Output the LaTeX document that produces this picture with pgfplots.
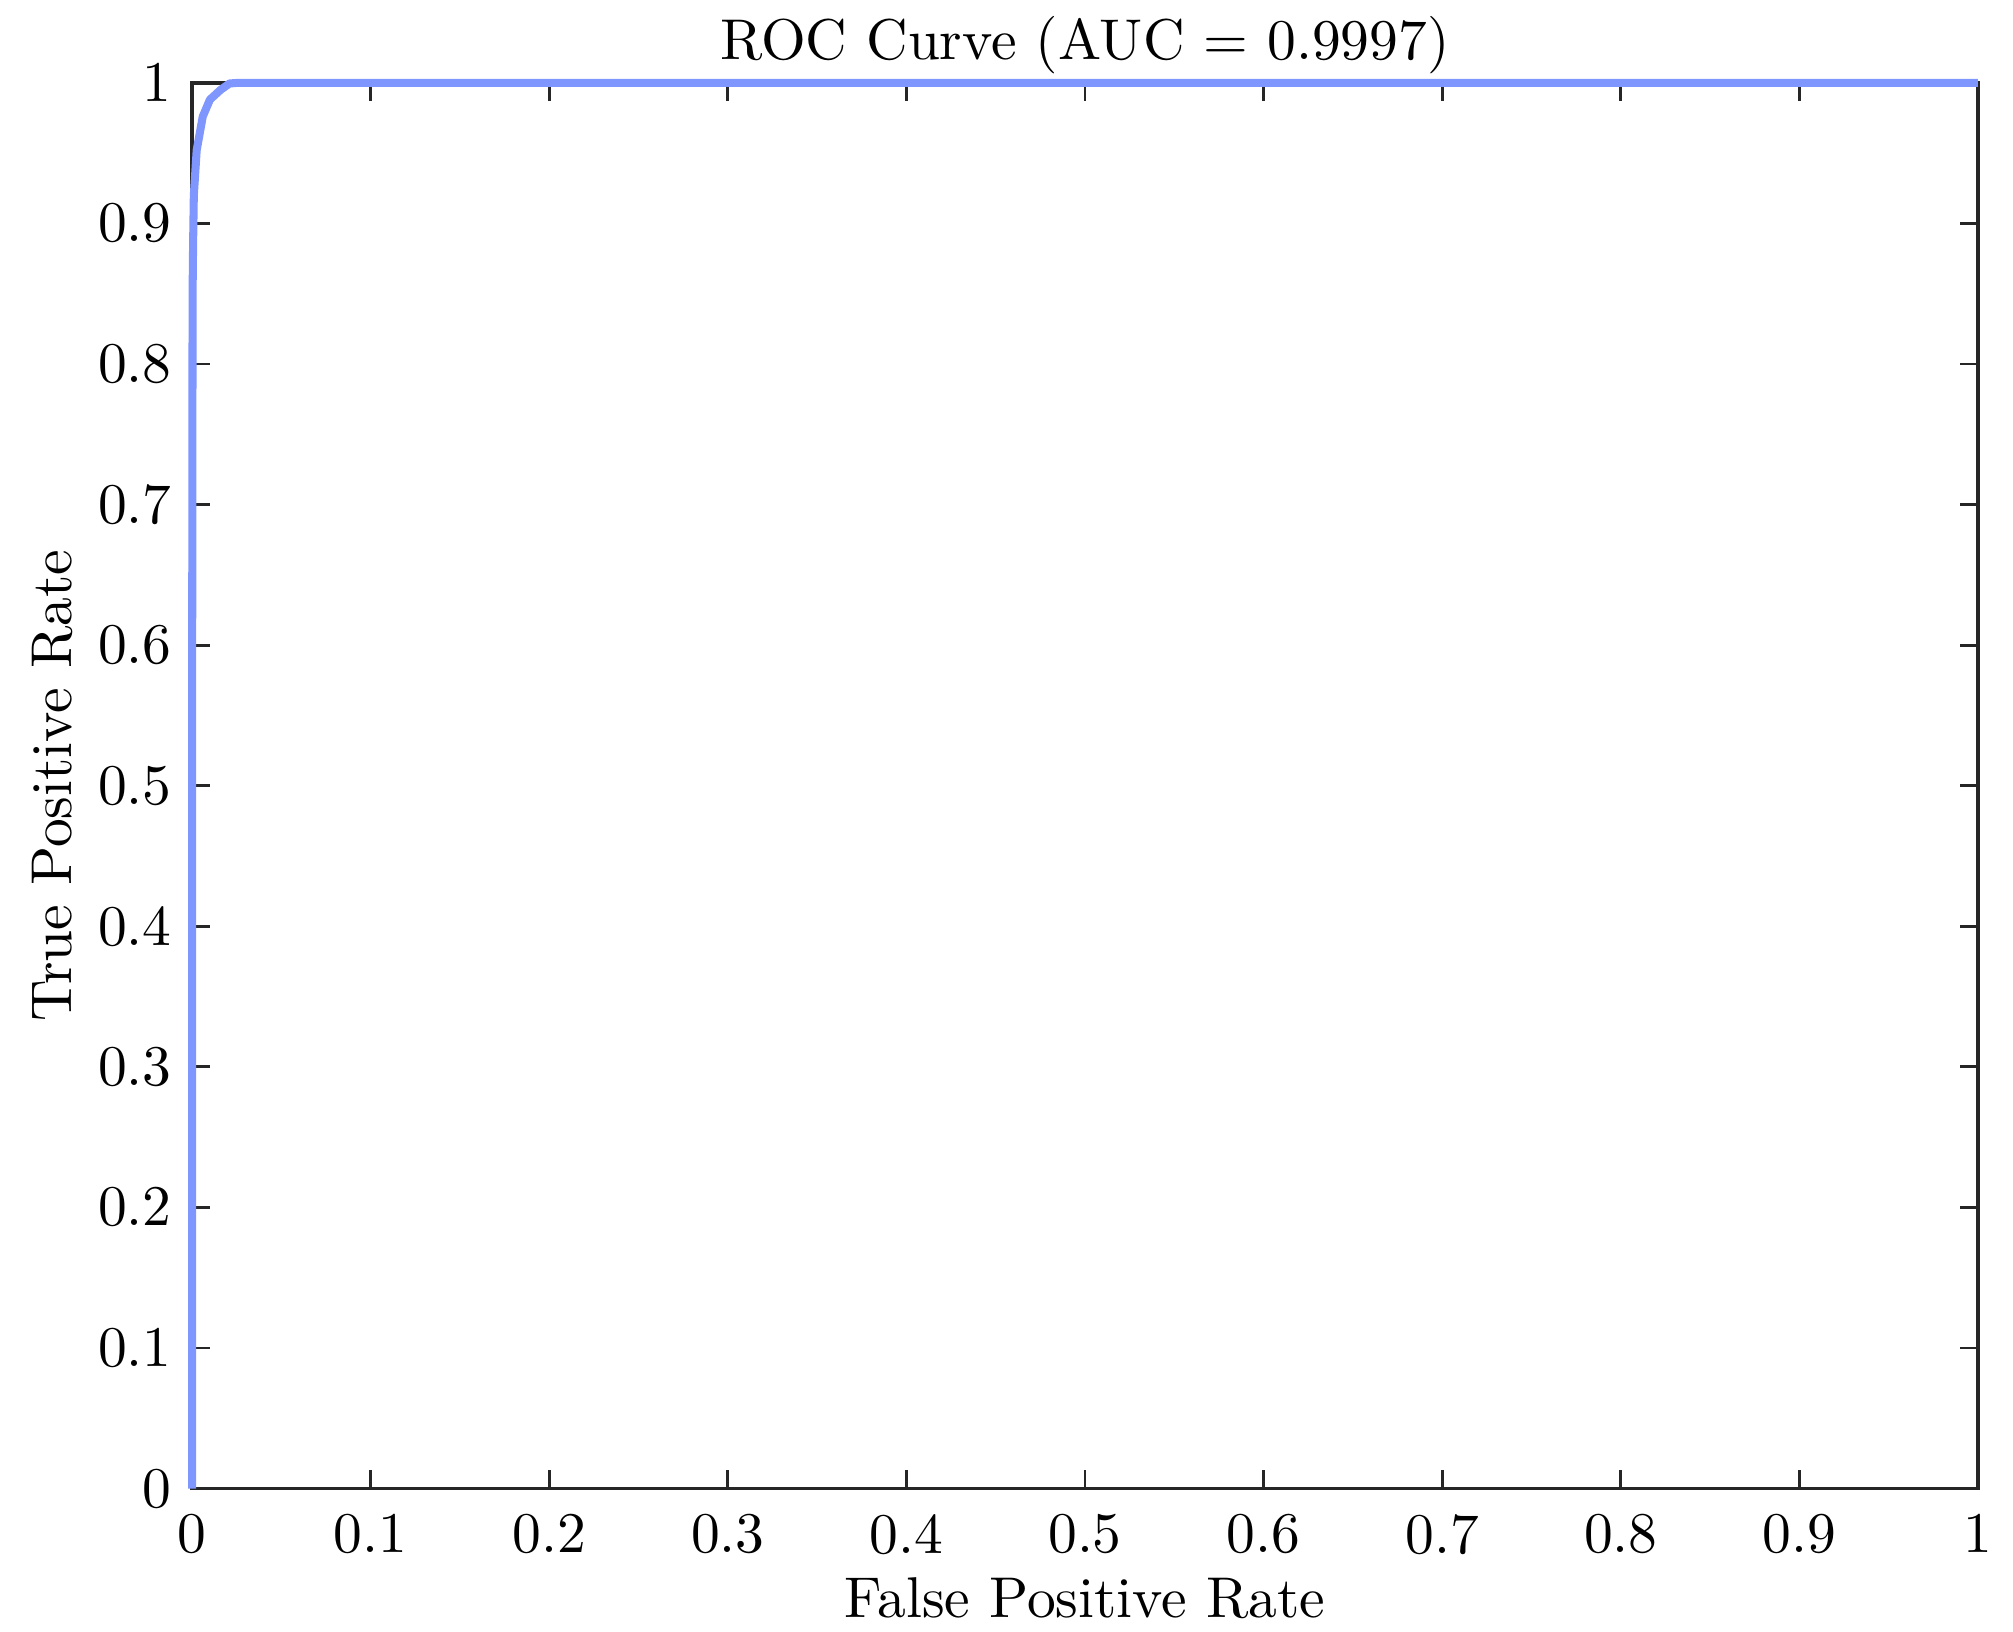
\documentclass[border=0pt]{standalone}
\usepackage{pgfplots}
\pgfplotsset{compat=1.18}
\definecolor{roc}{RGB}{128,150,255}
\definecolor{frame}{RGB}{38,38,38}
\begin{document}
\begin{tikzpicture}
\begin{axis}[
  scale only axis,
  width=310.6pt, height=244.5pt,
  xmin=0, xmax=1, ymin=0, ymax=1,
  xtick={0,0.1,...,1.0001}, ytick={0,0.1,...,1.0001},
  xticklabels={0,0.1,0.2,0.3,0.4,0.5,0.6,0.7,0.8,0.9,1},
  yticklabels={0,0.1,0.2,0.3,0.4,0.5,0.6,0.7,0.8,0.9,1},
  tick align=inside, tickwidth=3.2pt,
  axis line style={frame, line width=0.6pt},
  major tick style={frame, line width=0.5pt},
  tick label style={font=\fontsize{10}{12}\selectfont},
  xticklabel style={yshift=-1pt},
  title={ROC Curve (AUC = 0.9997)},
  title style={font=\fontsize{10}{12}\selectfont, yshift=-8pt},
  xlabel={False Positive Rate},
  ylabel={True Positive Rate},
  label style={font=\fontsize{10}{12}\selectfont},
  xlabel style={at={(axis description cs:0.5,0)}, anchor=center, yshift=-19pt},
  ylabel style={yshift=-2.5pt},
  clip=false,
]
\addplot[color=roc, line width=1.4pt, line join=round] coordinates {
 (0,0) (0,0.5) (0.0003,0.85) (0.0006,0.886) (0.001,0.92) (0.0026,0.952)
 (0.006,0.976) (0.010,0.988) (0.016,0.995) (0.021,0.9995) (0.026,1) (1,1)
};
\end{axis}
\pgfresetboundingbox
\path ([xshift=-33.4pt,yshift=-24.9pt]current axis.south west) rectangle ([xshift=6.1pt,yshift=14.4pt]current axis.north east);
\end{tikzpicture}
\end{document}
